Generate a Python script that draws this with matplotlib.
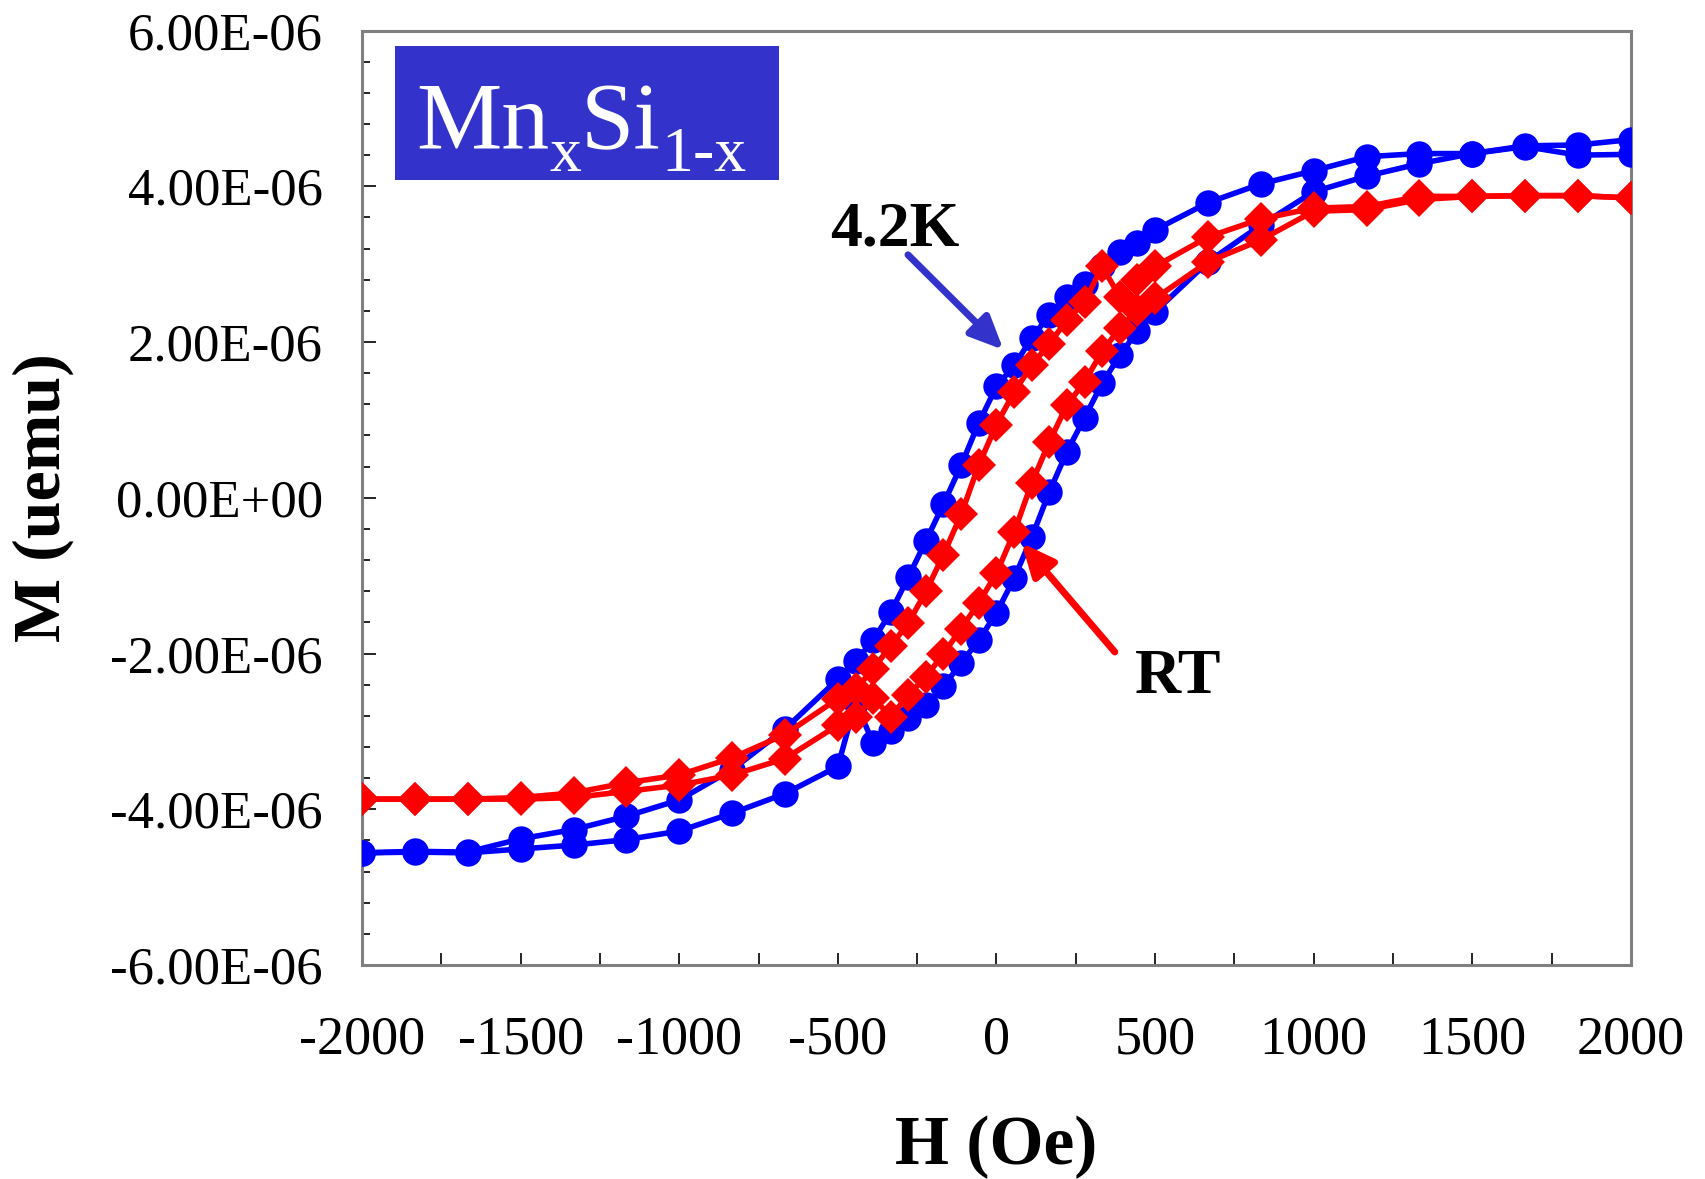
import matplotlib
matplotlib.use("Agg")
import matplotlib.pyplot as plt
from matplotlib.ticker import FixedLocator, FuncFormatter, MultipleLocator
from matplotlib.patches import Rectangle

plt.rcParams['font.family'] = ['Liberation Serif', 'DejaVu Serif']

# ---- data (M in units of 1e-6 emu) ----
H_desc = [2000, 1833, 1667, 1500, 1333, 1167, 1000, 833, 667, 500, 444, 389, 333, 278, 222, 167,
          111, 56, 0, -56, -111, -167, -222, -278, -333, -389, -444, -500, -667, -833, -1000,
          -1167, -1333, -1500, -1667, -1833, -2000]
H_asc = H_desc[::-1]

M_42K_desc = [4.60, 4.53, 4.52, 4.42, 4.42, 4.38, 4.20, 4.03, 3.79, 3.44, 3.27, 3.16, 2.97, 2.75,
              2.58, 2.35, 2.05, 1.70, 1.43, 0.96, 0.42, -0.08, -0.55, -1.02, -1.47, -1.83, -2.10,
              -2.33, -2.97, -3.49, -3.88, -4.09, -4.26, -4.38, -4.55, -4.54, -4.56]
M_42K_asc = [-4.56, -4.55, -4.56, -4.51, -4.46, -4.39, -4.28, -4.05, -3.80, -3.45, -2.62, -3.15,
             -2.99, -2.83, -2.66, -2.42, -2.12, -1.83, -1.48, -1.03, -0.51, 0.08, 0.59, 1.03,
             1.47, 1.83, 2.14, 2.39, 3.03, 3.50, 3.93, 4.13, 4.29, 4.42, 4.51, 4.40, 4.41]
M_RT_desc = [3.85, 3.88, 3.88, 3.87, 3.87, 3.74, 3.72, 3.58, 3.35, 2.97, 2.80, 2.58, 2.97, 2.52,
             2.28, 1.98, 1.70, 1.36, 0.94, 0.42, -0.21, -0.73, -1.20, -1.61, -1.90, -2.20, -2.46,
             -2.58, -3.04, -3.34, -3.56, -3.66, -3.79, -3.85, -3.87, -3.87, -3.87]
M_RT_asc = [-3.87, -3.87, -3.87, -3.87, -3.85, -3.77, -3.69, -3.56, -3.35, -2.92, -2.82, -2.57,
            -2.81, -2.53, -2.30, -2.00, -1.68, -1.35, -0.97, -0.44, 0.19, 0.72, 1.19, 1.49, 1.88,
            2.18, 2.41, 2.56, 3.03, 3.31, 3.68, 3.70, 3.83, 3.87, 3.88, 3.88, 3.85]
UNIT = 1e-6

x_ticks = [-2000, -1500, -1000, -500, 0, 500, 1000, 1500, 2000]
y_ticks = [-6e-6, -4e-6, -2e-6, 0.0, 2e-6, 4e-6, 6e-6]

title_parts = [('Mn', False), ('x', True), ('Si', False), ('1-x', True)]

BLUE = '#0000FF'
RED = '#FF0000'
BOX = '#3333CC'

fig = plt.figure(figsize=(17.06, 11.79), dpi=100)
ax = fig.add_axes([0.2122, 0.1815, 0.956 - 0.2122, 0.9741 - 0.1815])

for H, M in ((H_desc, M_42K_desc), (H_asc, M_42K_asc)):
    ax.plot(H, [m * UNIT for m in M], color=BLUE, lw=4.0, marker='o', ms=19,
            mew=0, zorder=3)
for H, M in ((H_desc, M_RT_desc), (H_asc, M_RT_asc)):
    ax.plot(H, [m * UNIT for m in M], color=RED, lw=4.0, marker='D', ms=17,
            mew=0, zorder=4)

ax.set_xlim(-2000, 2000)
ax.set_ylim(-6e-6, 6e-6)
ax.xaxis.set_major_locator(FixedLocator(x_ticks))
ax.xaxis.set_minor_locator(MultipleLocator(250))
ax.yaxis.set_major_locator(FixedLocator(y_ticks))
ax.yaxis.set_minor_locator(MultipleLocator(4e-7))
ax.xaxis.set_major_formatter(FuncFormatter(lambda v, p: str(int(round(v)))))
ax.yaxis.set_major_formatter(FuncFormatter(lambda v, p: '%.2E' % v))

ax.tick_params(axis='both', which='both', direction='in', colors='black', width=1.2)
ax.tick_params(axis='x', which='major', length=9, pad=36, labelsize=39)
ax.tick_params(axis='x', which='minor', length=9)
ax.tick_params(axis='y', which='major', length=10, pad=28, labelsize=38)
ax.tick_params(axis='y', which='minor', length=6)
ax.tick_params(top=False, right=False)

for s in ax.spines.values():
    s.set_color('#808080')
    s.set_linewidth(2.2)

fig.text(996.5 / 1706, 1 - 1164 / 1179, 'H (Oe)', fontsize=50, fontweight='bold',
         ha='center', va='baseline')
fig.text(43 / 1706, 1 - 498 / 1179, 'M (uemu)', fontsize=49, fontweight='bold',
         ha='center', va='center', rotation=90)

# title box
ax.add_patch(Rectangle((0.026, 0.840), 0.3026, 0.143, transform=ax.transAxes,
                       facecolor=BOX, edgecolor='none', zorder=5))
fig.canvas.draw()
renderer = fig.canvas.get_renderer()
x_px = 416.0
base_px = 1179 - 149.0
for txt, sub in title_parts:
    fs = 46 if sub else 69
    y_px = base_px - (22 if sub else 0)
    t = fig.text(x_px / 1706, y_px / 1179, txt, fontsize=fs, color='white',
                 ha='left', va='baseline', zorder=6)
    bb = t.get_window_extent(renderer)
    x_px = bb.x1

# annotations
ax.text(-525, 3.24 * UNIT, '4.2K', fontsize=46, fontweight='bold', ha='left', va='baseline', zorder=6)
ax.annotate('', xy=(22, 1.90 * UNIT), xytext=(-279, 3.12 * UNIT),
            arrowprops=dict(arrowstyle='-|>,head_length=1.0,head_width=0.45', lw=5,
                            color=BOX, mutation_scale=20, shrinkA=0, shrinkB=0), zorder=6)
ax.text(437, -2.51 * UNIT, 'RT', fontsize=46, fontweight='bold', ha='left', va='baseline', zorder=6)
ax.annotate('', xy=(79, -0.58 * UNIT), xytext=(373, -1.98 * UNIT),
            arrowprops=dict(arrowstyle='-|>,head_length=1.0,head_width=0.45', lw=5,
                            color=RED, mutation_scale=20, shrinkA=0, shrinkB=0), zorder=6)

fig.savefig('out.png', dpi=100)
